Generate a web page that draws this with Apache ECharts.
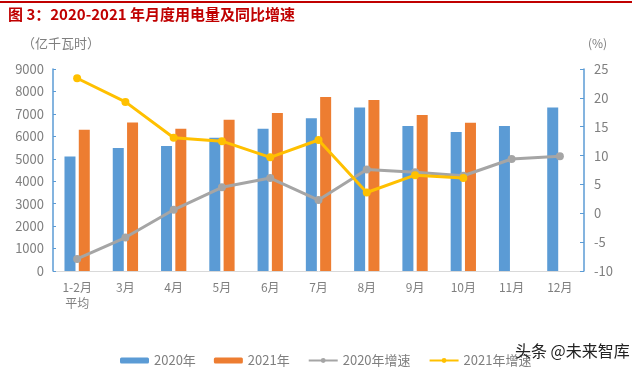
<!DOCTYPE html>
<html><head><meta charset="utf-8">
<script src="https://cdn.jsdelivr.net/npm/echarts@6/dist/echarts.min.js"></script>
<style>html,body{margin:0;padding:0;background:#fff}#c{width:640px;height:370px}</style>
</head><body><div id="c"></div>
<script>
const categories = ['1-2月\n平均','3月','4月','5月','6月','7月','8月','9月','10月','11月','12月'];
const power2020 = [5100, 5480, 5565, 5940, 6340, 6810, 7290, 6460, 6190, 6460, 7290];
const power2021 = [6290, 6620, 6340, 6740, 7040, 7750, 7620, 6950, 6610, null, null];
const growth2020 = [-7.9, -4.2, 0.6, 4.5, 6.1, 2.3, 7.6, 7.1, 6.5, 9.4, 9.9];
const growth2021 = [23.4, 19.3, 13.1, 12.5, 9.7, 12.7, 3.6, 6.6, 6.1, null, null];
const seriesNames = ['2020年','2021年','2020年增速','2021年增速'];
const leftTicks = {min:0, max:9000, interval:1000};
const rightTicks = {min:-10, max:25, interval:5};

const font = '"Noto Sans CJK SC", "Noto Sans", sans-serif';
const gray = '#7f7f7f';
const chart = echarts.init(document.getElementById('c'), null, {renderer:'canvas'});
chart.setOption({
  animation:false,
  textStyle:{fontFamily:font},
  graphic:[
    {type:'rect', shape:{x:0,y:1,width:632,height:2}, style:{fill:'#c00000'}},
    {type:'text', left:8, top:7, style:{text:'图 3：2020-2021 年月度用电量及同比增速', fill:'#c00000', font:'bold 15px '+font}},
    {type:'text', left:22, top:37, style:{text:'（亿千瓦时）', fill:gray, font:'13px '+font}},
    {type:'text', left:588, top:37, style:{text:'(%)', fill:gray, font:'12px '+font}},
    {type:'text', left:515, top:343, z:100, style:{text:'头条 @未来智库', fill:'#222', font:'16px '+font}}
  ],
  grid:{left:53, right:56, top:69, bottom:99, containLabel:false},
  legend:{
    data:seriesNames, left:115, top:349, itemWidth:29, itemHeight:6, itemGap:18,
    textStyle:{color:gray, fontSize:13, fontFamily:font}
  },
  xAxis:{
    type:'category', data:categories,
    axisLine:{lineStyle:{color:'#d9d9d9', width:1}},
    axisTick:{show:false},
    axisLabel:{color:gray, fontSize:12, margin:8, lineHeight:16, interval:0}
  },
  yAxis:[
    {type:'value', min:leftTicks.min, max:leftTicks.max, interval:leftTicks.interval, position:'left',
     axisLine:{show:true, lineStyle:{color:'#5b9bd5', width:1.5}},
     axisTick:{show:true, inside:true, length:3, lineStyle:{color:'#5b9bd5'}},
     splitLine:{show:false},
     axisLabel:{color:gray, fontSize:13, margin:9, formatter:v => String(v)}},
    {type:'value', min:rightTicks.min, max:rightTicks.max, interval:rightTicks.interval, position:'right',
     axisLine:{show:true, lineStyle:{color:'#5b9bd5', width:1.5}},
     axisTick:{show:true, inside:true, length:4, lineStyle:{color:'#5b9bd5'}},
     splitLine:{show:false},
     axisLabel:{color:gray, fontSize:13, margin:10, formatter:v => String(v)}}
  ],
  series:[
    {name:seriesNames[0], type:'bar', data:power2020, barWidth:11, barGap:'30%', itemStyle:{color:'#5b9bd5'}},
    {name:seriesNames[1], type:'bar', data:power2021, barWidth:11, barGap:'30%', itemStyle:{color:'#ed7d31'}},
    {name:seriesNames[2], type:'line', yAxisIndex:1, data:growth2020, symbol:'circle', symbolSize:8,
     lineStyle:{color:'#a5a5a5', width:3}, itemStyle:{color:'#a5a5a5'}},
    {name:seriesNames[3], type:'line', yAxisIndex:1, data:growth2021, symbol:'circle', symbolSize:8,
     lineStyle:{color:'#ffc000', width:3}, itemStyle:{color:'#ffc000'}}
  ]
});
</script></body></html>
